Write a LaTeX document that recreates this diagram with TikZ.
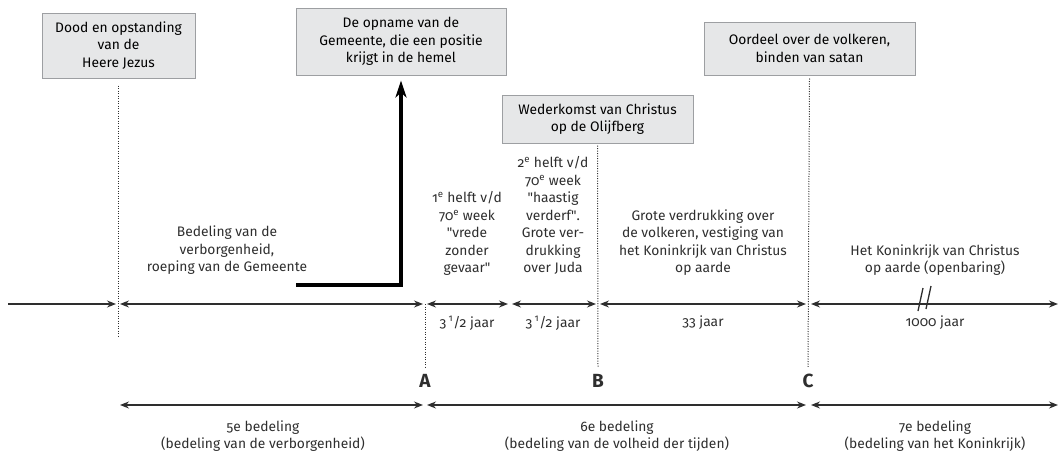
\documentclass[tikz,border=0pt]{standalone}
\usepackage{fontspec}
\setmainfont{Fira Sans}[Numbers=OldStyle]
\usetikzlibrary{arrows.meta}
\definecolor{boxgray}{HTML}{E6E7E8}
\definecolor{edgegray}{HTML}{9D9FA2}
\definecolor{inkgray}{HTML}{2E2E2E}
\tikzset{>={Stealth[length=9pt,width=7pt,inset=3pt]}}
\tikzstyle{event} = [draw=edgegray, fill=boxgray, rectangle, line width=1pt,
    align=center, inner sep=2pt]
\tikzstyle{tekst} = [align=center, inner sep=0pt, text=inkgray]
\tikzstyle{letter} = [inner sep=0pt, text=inkgray, font=\fontsize{19}{22}\selectfont\bfseries]
\tikzstyle{period} = [draw=inkgray, line width=1.3pt]
\tikzstyle{marker} = [draw=inkgray, line width=1pt, dash pattern=on 1pt off 1.5pt]

\begin{document}
\begin{tikzpicture}[x=1pt, y=-1pt, font=\fontsize{13.8}{17.5}\selectfont]
    \useasboundingbox (0,0) rectangle (1061,455);
    % We start by placing the events
    \node [event, minimum width=153pt, minimum height=65pt] (jezus) at (118.5,45.5)
        {Dood en opstanding\\van de\\Heere Jezus};
    \node [event, minimum width=210pt, minimum height=67pt] (opname) at (401,41.5)
        {De opname van de\\Gemeente, die een positie\\krijgt in de hemel};
    \node [event, minimum width=191pt, minimum height=48pt] (komst) at (597.5,119)
        {Wederkomst van Christus\\op de Olijfberg};
    \node [event, minimum width=211pt, minimum height=53pt] (oordeel) at (809.5,48.5)
        {Oordeel over de volkeren,\\binden van satan};

    % points on the time line
    \coordinate (t0) at (8,304);
    \coordinate (p1) at (118,304);
    \coordinate (pA) at (425,304);
    \coordinate (ph) at (510,304);
    \coordinate (pB) at (598,304);
    \coordinate (pC) at (808,304);
    \coordinate (tend) at (1058,304);
    \coordinate (hook) at (296,285);
    \coordinate (brk) at (924,299);

    % the periods
    \draw [period,->,shorten >=2pt] (t0) -- (p1);
    \draw [period,<->,shorten >=2pt,shorten <=2pt] (p1) -- (pA);
    \draw [period,<->,shorten >=2pt,shorten <=2pt] (pA) -- (ph);
    \draw [period,<->,shorten >=2pt,shorten <=2pt] (ph) -- (pB);
    \draw [period,<->,shorten >=2pt,shorten <=2pt] (pB) -- (pC);
    \draw [period,<->,shorten <=3pt] (pC) -- (tend);
    \draw [period] ([shift={(-6,12)}]brk) -- ([shift={(-1,-11)}]brk)
        ([shift={(2,10)}]brk) -- ([shift={(7,-13)}]brk);

    % dotted markers
    \node [letter] (A) at (425,381) {A};
    \node [letter] (B) at (598,381) {B};
    \node [letter] (C) at (808,381) {C};
    \draw [marker] ([yshift=-7pt]jezus.south) -- ++(0,252);
    \draw [marker] (pA) -- ([yshift=7pt]A.north);
    \draw [marker] ([yshift=-2pt]komst.south) -- ([yshift=7pt]B.north);
    \draw [marker] ([yshift=-3pt]oordeel.south) -- ([yshift=7pt]C.north);

    % the rapture
    \draw [line width=3.8pt, -{Stealth[length=17pt,width=11pt,inset=5pt]}, line join=miter]
        (hook) -| ([yshift=-5pt]opname.south);

    % texts above the line
    \node [tekst, anchor=south] (verborgen) at (227,275)
        {Bedeling van de\\verborgenheid,\\roeping van de Gemeente};
    \node [tekst, anchor=south] (helft1) at (467,276)
        {1\textsuperscript{e} helft v/d\\70\textsuperscript{e} week\\\textquotedbl vrede\\zonder\\gevaar\textquotedbl};
    \node [tekst, anchor=south] (helft2) at (553,275)
        {2\textsuperscript{e} helft v/d\\70\textsuperscript{e} week\\\textquotedbl haastig\\verderf\textquotedbl.\\Grote ver-\\drukking\\over Juda};
    \node [tekst, anchor=south] (volkeren) at (703,276)
        {Grote verdrukking over\\de volkeren, vestiging van\\het Koninkrijk van Christus\\op aarde};
    \node [tekst, anchor=south] (rijk) at (935,276)
        {Het Koninkrijk van Christus\\op aarde (openbaring)};

    % durations
    \node [tekst] (jaar1) at (467,323) {3\,\textsuperscript{1}/2 jaar};
    \node [tekst] (jaar2) at (553,323) {3\,\textsuperscript{1}/2 jaar};
    \node [tekst] (jaar3) at (703,323) {33 jaar};
    \node [tekst] (jaar4) at (935,323) {1000 jaar};

    % the dispensations
    \coordinate (b1) at (118,405);
    \coordinate (bA) at (425,405);
    \coordinate (bC) at (808,405);
    \coordinate (bend) at (1058,405);
    \draw [period,<->,shorten >=2pt,shorten <=2pt] (b1) -- (bA);
    \draw [period,<->,shorten >=2pt,shorten <=2pt] (bA) -- (bC);
    \draw [period,<->,shorten <=3pt] (bC) -- (bend);
    \node [tekst] (bed5) at (263,436) {5e bedeling\\(bedeling van de verborgenheid)};
    \node [tekst] (bed6) at (617,436) {6e bedeling\\(bedeling van de volheid der tijden)};
    \node [tekst] (bed7) at (935,436) {7e bedeling\\(bedeling van het Koninkrijk)};
\end{tikzpicture}
\end{document}
